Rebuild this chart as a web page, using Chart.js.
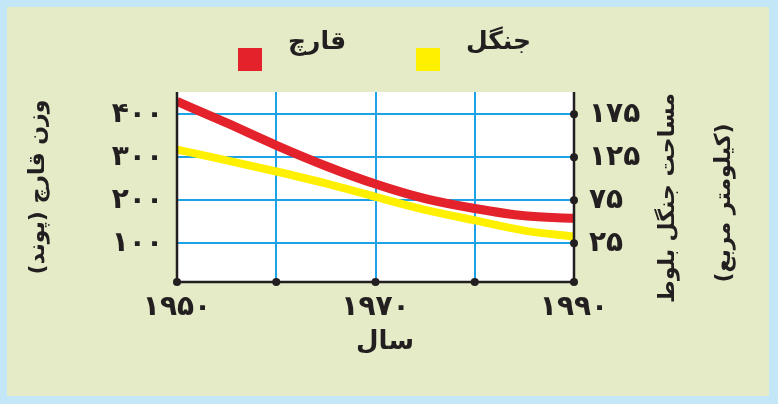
<!DOCTYPE html>
<html lang="fa">
<head>
<meta charset="utf-8">
<title>قارچ و جنگل</title>
<script src="https://cdn.jsdelivr.net/npm/chart.js@4.4.1/dist/chart.umd.min.js"></script>
<style>
  html, body { margin: 0; padding: 0; background: #c4e7f7; }
  #graph { width: 778px; height: 404px; position: relative; }
</style>
</head>
<body>
<div id="graph"><canvas></canvas></div>
<script>
// Données
const years = [1950, 1955, 1960, 1965, 1970, 1975, 1980, 1985, 1990];
const mushroomWeight = [430, 380, 328, 280, 238, 204, 181, 164, 158]; // پوند
const forestArea = [134, 121.5, 108.5, 94.6, 79, 64, 51.7, 39.8, 33]; // کیلومتر مربع

const xTickValues = [1950, 1960, 1970, 1980, 1990];
const xTickLabels = ["۱۹۵۰", "", "۱۹۷۰", "", "۱۹۹۰"];
const leftTickValues = [100, 200, 300, 400];
const leftTickLabels = ["۱۰۰", "۲۰۰", "۳۰۰", "۴۰۰"];
const rightTickValues = [25, 75, 125, 175];
const rightTickLabels = ["۲۵", "۷۵", "۱۲۵", "۱۷۵"];

const seriesNames = ["قارچ", "جنگل"];
const xTitle = "سال";
const leftTitle = "وزن قارچ (پوند)";
const rightTitle = ["مساحت جنگل بلوط", "(کیلومتر مربع)"];

const INK = "#231f20";
const GRID = "#1ea2e6";
const FONT = "'DejaVu Sans', sans-serif";

const toPoints = (values) => values.map((v, i) => ({ x: years[i], y: v }));

// fond, axes, points, titres et légende
const decor = {
  id: "decor",
  beforeDraw(chart) {
    const { ctx, width, height, chartArea: a } = chart;
    ctx.save();
    ctx.fillStyle = "#c4e7f7";
    ctx.fillRect(0, 0, width, height);
    ctx.fillStyle = "#e4ebc6";
    ctx.fillRect(7, 7, width - 16, height - 15);
    ctx.fillStyle = "#ffffff";
    ctx.fillRect(a.left, a.top, a.right - a.left, a.bottom - a.top);
    ctx.restore();
  },
  afterDatasetsDraw(chart) {
    const { ctx, chartArea: a, scales } = chart;
    ctx.save();
    ctx.strokeStyle = INK;
    ctx.lineWidth = 2.5;
    ctx.beginPath();
    ctx.moveTo(a.left, a.top);
    ctx.lineTo(a.left, a.bottom);
    ctx.lineTo(a.right, a.bottom);
    ctx.lineTo(a.right, a.top);
    ctx.stroke();
    ctx.fillStyle = INK;
    const dot = (x, y) => {
      ctx.beginPath();
      ctx.arc(x, y, 4, 0, Math.PI * 2);
      ctx.fill();
    };
    xTickValues.forEach((v) => dot(scales.x.getPixelForValue(v), a.bottom));
    rightTickValues.forEach((v) => dot(a.right, scales.y1.getPixelForValue(v)));
    ctx.restore();
  },
  afterDraw(chart) {
    const { ctx, chartArea: a } = chart;
    ctx.save();
    ctx.fillStyle = INK;
    ctx.direction = "rtl";
    ctx.textAlign = "center";
    ctx.textBaseline = "middle";
    ctx.font = "bold 22px " + FONT;

    const vText = (text, x, y) => {
      ctx.save();
      ctx.translate(x, y);
      ctx.rotate(-Math.PI / 2);
      ctx.fillText(text, 0, 0);
      ctx.restore();
    };
    vText(leftTitle, 38, 187);
    vText(rightTitle[0], 668, 198);
    vText(rightTitle[1], 724, 203);

    ctx.font = "bold 26px " + FONT;
    ctx.fillText(xTitle, 385, 342);

    // légende
    const boxX = [238, 416];
    ctx.font = "bold 25px " + FONT;
    chart.data.datasets.forEach((ds, i) => {
      ctx.fillStyle = ds.borderColor;
      ctx.fillRect(boxX[i], 48, 24, 23);
      ctx.fillStyle = INK;
      ctx.textAlign = "left";
      ctx.fillText(ds.label, boxX[i] + 50, 42);
    });
    ctx.restore();
  },
};

const tickFont = { family: FONT, size: 28, weight: "bold" };

const config = {
  type: "line",
  data: {
    datasets: [
      {
        label: seriesNames[0],
        data: toPoints(mushroomWeight),
        yAxisID: "y",
        borderColor: "#e3222b",
        borderWidth: 9,
      },
      {
        label: seriesNames[1],
        data: toPoints(forestArea),
        yAxisID: "y1",
        borderColor: "#fff000",
        borderWidth: 8,
      },
    ],
  },
  options: {
    responsive: true,
    maintainAspectRatio: false,
    animation: false,
    layout: { padding: { top: 92, left: 0, right: 0, bottom: 0 } },
    elements: {
      point: { radius: 0 },
      line: { cubicInterpolationMode: "monotone", borderCapStyle: "butt", fill: false },
    },
    datasets: { line: { clip: 0 } },
    plugins: {
      legend: { display: false },
      tooltip: { enabled: false },
    },
    scales: {
      x: {
        type: "linear",
        min: 1950,
        max: 1990,
        afterBuildTicks: (s) => { s.ticks = xTickValues.map((v) => ({ value: v })); },
        afterFit: (s) => { s.height = 122; },
        border: { display: false },
        grid: { color: GRID, lineWidth: 2, drawTicks: false },
        ticks: {
          padding: 9,
          color: INK,
          font: tickFont,
          maxRotation: 0,
          autoSkip: false,
          callback: (v, i) => xTickLabels[i],
        },
      },
      y: {
        position: "left",
        min: 10,
        max: 452,
        afterBuildTicks: (s) => { s.ticks = leftTickValues.map((v) => ({ value: v })); },
        afterFit: (s) => { s.width = 177; },
        border: { display: false },
        grid: { color: GRID, lineWidth: 2, drawTicks: false },
        ticks: {
          padding: 14,
          color: INK,
          font: tickFont,
          callback: (v, i) => leftTickLabels[i],
        },
      },
      y1: {
        position: "right",
        min: -20,
        max: 201,
        afterBuildTicks: (s) => { s.ticks = rightTickValues.map((v) => ({ value: v })); },
        afterFit: (s) => { s.width = 204; },
        border: { display: false },
        grid: { display: false, drawTicks: false },
        ticks: {
          padding: 15,
          color: INK,
          font: tickFont,
          callback: (v, i) => rightTickLabels[i],
        },
      },
    },
  },
  plugins: [decor],
};

new Chart(document.querySelector("#graph canvas"), config);
</script>
</body>
</html>
